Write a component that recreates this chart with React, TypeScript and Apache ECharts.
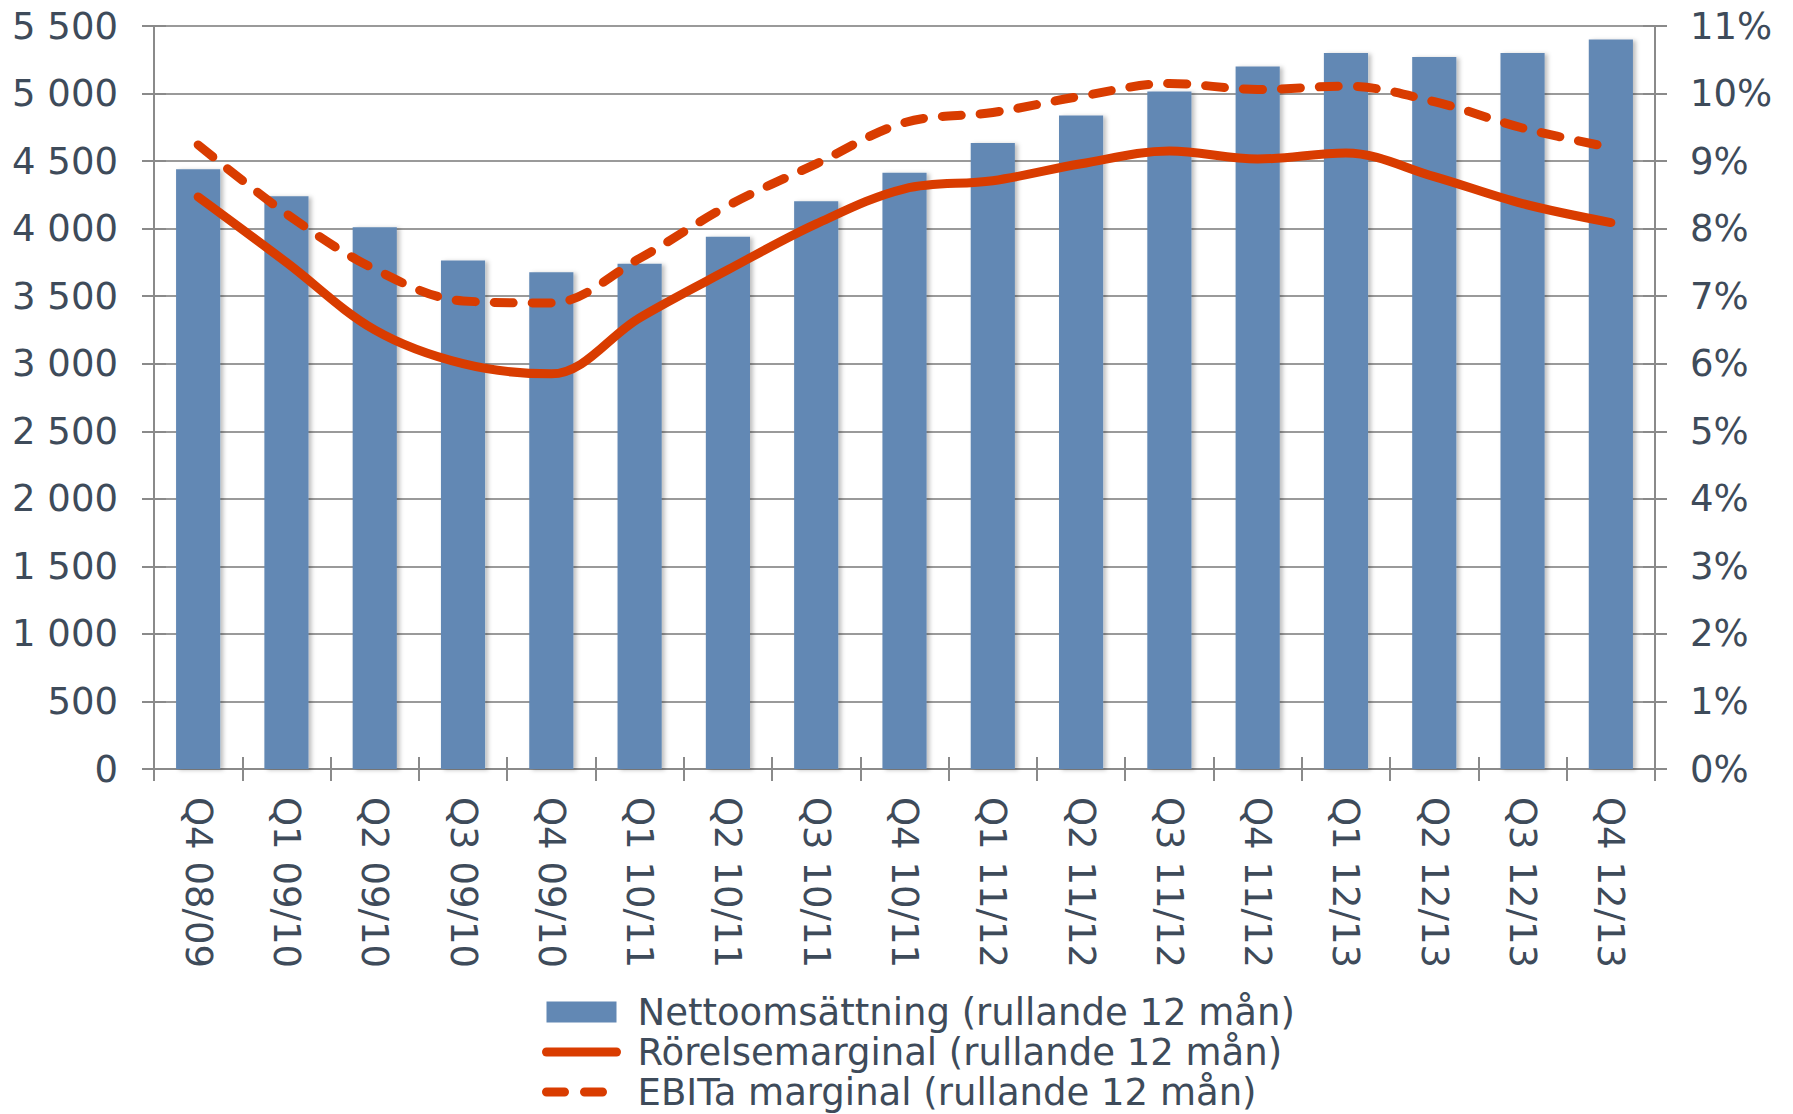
import React, { useEffect, useRef } from "react";
import * as echarts from "echarts";

const categories = [
  "Q4 08/09", "Q1 09/10", "Q2 09/10", "Q3 09/10", "Q4 09/10", "Q1 10/11",
  "Q2 10/11", "Q3 10/11", "Q4 10/11", "Q1 11/12", "Q2 11/12", "Q3 11/12",
  "Q4 11/12", "Q1 12/13", "Q2 12/13", "Q3 12/13", "Q4 12/13",
];
const nettoomsattning = [
  4440, 4240, 4010, 3765, 3677, 3740, 3940, 4203, 4414, 4634, 4838, 5015,
  5200, 5300, 5270, 5300, 5400,
];
const rorelsemarginal = [
  8.47, 7.5, 6.5, 6.0, 5.85, 6.68, 7.39, 8.07, 8.59, 8.71, 8.96, 9.15,
  9.03, 9.12, 8.77, 8.37, 8.09,
];
const ebitaMarginal = [
  9.24, 8.22, 7.4, 6.93, 6.9, 7.56, 8.34, 8.96, 9.57, 9.72, 9.96, 10.15,
  10.06, 10.11, 9.88, 9.49, 9.2,
];
const seriesNames = [
  "Nettoomsättning (rullande 12 mån)",
  "Rörelsemarginal (rullande 12 mån)",
  "EBITa marginal (rullande 12 mån)",
];

const TEXT = "#3e4b5a";
const AXIS = "#8a8a8a";
const GRID = "#9a9a9a";
const ORANGE = "#d93c00";
const BLUE = "#6288b4";
const FONT = "'DejaVu Sans', Verdana, sans-serif";

export default function App() {
  const ref = useRef<HTMLDivElement>(null);
  useEffect(() => {
    document.body.style.margin = "0";
    const chart = echarts.init(ref.current!, null, { renderer: "svg" });
    const grid = { left: 154, right: 138, top: 26, bottom: 345 };
    chart.setOption({
      animation: false,
      textStyle: { fontFamily: FONT, color: TEXT },
      grid,
      legend: {
        orient: "vertical",
        left: 542,
        top: 992,
        padding: 0,
        itemWidth: 70,
        itemHeight: 21,
        itemGap: 0,
        data: [
          { name: seriesNames[0], icon: "rect" },
          {
            name: seriesNames[1],
            itemStyle: { opacity: 0 },
            lineStyle: { width: 9, cap: "round" },
          },
          {
            name: seriesNames[2],
            itemStyle: { opacity: 0 },
            lineStyle: { width: 9, cap: "round", type: [18, 20] },
          },
        ],
        textStyle: {
          fontFamily: FONT,
          fontSize: 37,
          color: TEXT,
          lineHeight: 40,
          padding: [0, 0, 0, 16],
        },
      },
      xAxis: [
        {
          type: "category",
          data: categories,
          axisLine: { lineStyle: { color: AXIS, width: 2 } },
          axisTick: { show: true, length: 12, lineStyle: { color: AXIS, width: 2 } },
          axisLabel: {
            rotate: -90,
            margin: 28,
            fontSize: 37,
            color: TEXT,
            fontFamily: FONT,
            interval: 0,
          },
          splitLine: { show: false },
        },
        {
          type: "category",
          data: categories,
          position: "bottom",
          axisLine: { show: false },
          axisTick: { show: true, inside: true, length: 12, lineStyle: { color: AXIS, width: 2 } },
          axisLabel: { show: false },
          splitLine: { show: false },
        },
      ],
      yAxis: [
        {
          type: "value",
          min: 0,
          max: 5500,
          interval: 500,
          position: "left",
          axisLine: { show: true, lineStyle: { color: AXIS, width: 2 } },
          axisTick: { show: true, length: 12, lineStyle: { color: AXIS, width: 2 } },
          axisLabel: {
            margin: 36,
            fontSize: 37,
            color: TEXT,
            fontFamily: FONT,
            formatter: (v: number) => String(v).replace(/\B(?=(\d{3})+(?!\d))/g, " "),
          },
          splitLine: { show: true, lineStyle: { color: GRID, width: 2 } },
        },
        {
          type: "value",
          min: 0,
          max: 11,
          interval: 1,
          position: "right",
          axisLine: { show: true, lineStyle: { color: AXIS, width: 2 } },
          axisTick: { show: true, length: 12, lineStyle: { color: AXIS, width: 2 } },
          axisLabel: {
            margin: 35,
            fontSize: 37,
            color: TEXT,
            fontFamily: FONT,
            formatter: "{value}%",
          },
          splitLine: { show: false },
        },
        {
          type: "value",
          min: 0,
          max: 5500,
          interval: 500,
          position: "left",
          axisLine: { show: false },
          axisTick: { show: true, inside: true, length: 12, lineStyle: { color: AXIS, width: 2 } },
          axisLabel: { show: false },
          splitLine: { show: false },
        },
        {
          type: "value",
          min: 0,
          max: 11,
          interval: 1,
          position: "right",
          axisLine: { show: false },
          axisTick: { show: true, inside: true, length: 12, lineStyle: { color: AXIS, width: 2 } },
          axisLabel: { show: false },
          splitLine: { show: false },
        },
      ],
      series: [
        {
          name: seriesNames[0],
          type: "bar",
          data: nettoomsattning,
          xAxisIndex: 0,
          yAxisIndex: 0,
          barWidth: "50%",
          itemStyle: {
            color: BLUE,
            shadowColor: "rgba(0,0,0,0.25)",
            shadowBlur: 4,
            shadowOffsetX: 3,
            shadowOffsetY: 1,
          },
        },
        {
          name: seriesNames[1],
          type: "line",
          data: rorelsemarginal,
          xAxisIndex: 0,
          yAxisIndex: 1,
          smooth: 0.35,
          symbol: "none",
          lineStyle: { color: ORANGE, width: 9, cap: "round", join: "round" },
          itemStyle: { color: ORANGE },
        },
        {
          name: seriesNames[2],
          type: "line",
          data: ebitaMarginal,
          xAxisIndex: 0,
          yAxisIndex: 1,
          smooth: 0.35,
          symbol: "none",
          lineStyle: { color: ORANGE, width: 9, type: [19, 19], cap: "round", join: "round" },
          itemStyle: { color: ORANGE },
        },
      ],
    });
    return () => chart.dispose();
  }, []);
  return <div ref={ref} style={{ width: 1793, height: 1114 }} />;
}
